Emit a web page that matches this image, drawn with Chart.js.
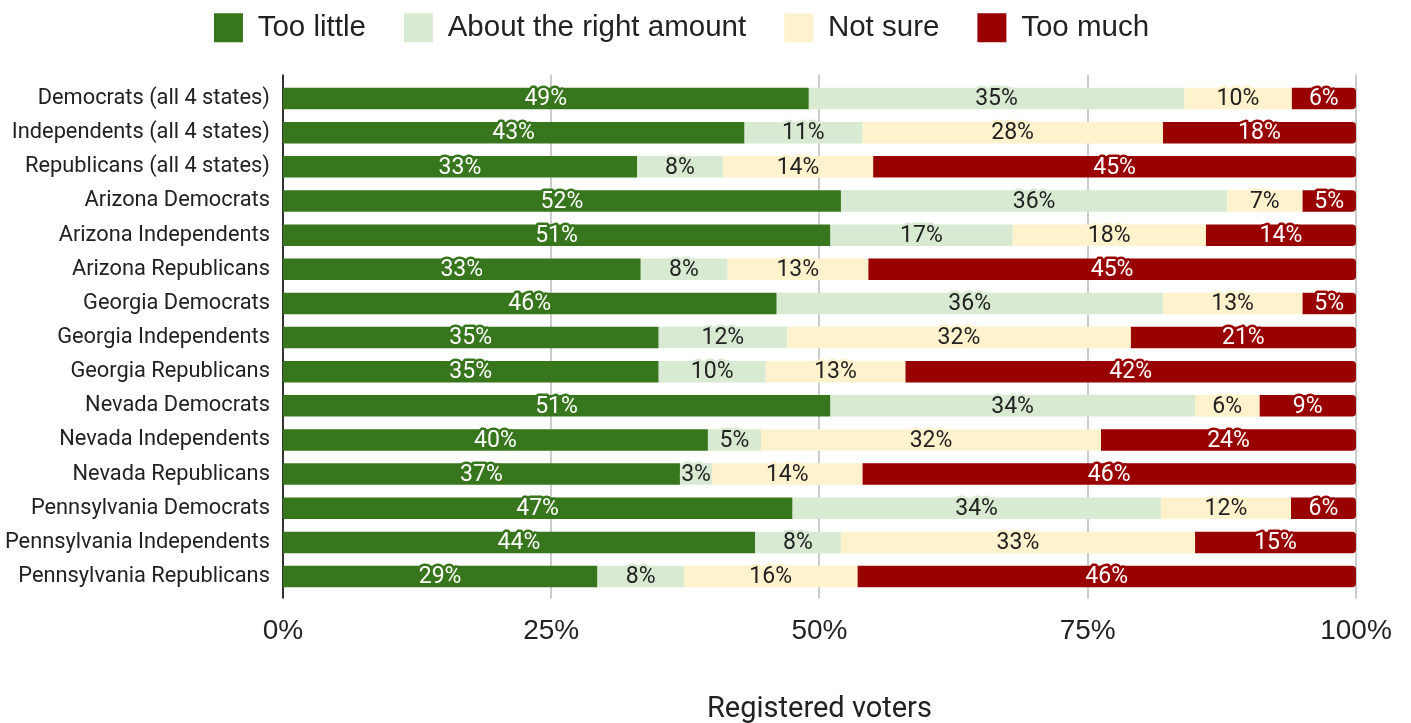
<!DOCTYPE html>
<html lang="en">

<head>
    <meta charset="UTF-8">
    <meta name="viewport" content="width=device-width, initial-scale=1.0">
    <script src="https://cdn.jsdelivr.net/npm/chart.js"></script>
    <title>Registered voters</title>
    <style>
        html, body { margin: 0; padding: 0; background: #fff; }
        .chart-container { width: 1411px; height: 723px; position: relative; }
    </style>
</head>

<body>
    <div class="chart-container">
        <canvas id="myChart"></canvas>
    </div>

<script>
    const labels = [
        'Democrats (all 4 states)',
        'Independents (all 4 states)',
        'Republicans (all 4 states)',
        'Arizona Democrats',
        'Arizona Independents',
        'Arizona Republicans',
        'Georgia Democrats',
        'Georgia Independents',
        'Georgia Republicans',
        'Nevada Democrats',
        'Nevada Independents',
        'Nevada Republicans',
        'Pennsylvania Democrats',
        'Pennsylvania Independents',
        'Pennsylvania Republicans',
    ];

    const seriesNames = ['Too little', 'About the right amount', 'Not sure', 'Too much'];

    const tooLittle   = [49, 43, 33, 52, 51, 33, 46, 35, 35, 51, 40, 37, 47, 44, 29];
    const rightAmount = [35, 11,  8, 36, 17,  8, 36, 12, 10, 34,  5,  3, 34,  8,  8];
    const notSure     = [10, 28, 14,  7, 18, 13, 13, 32, 13,  6, 32, 14, 12, 33, 16];
    const tooMuch     = [ 6, 18, 45,  5, 14, 45,  5, 21, 42,  9, 24, 46,  6, 15, 46];

    const xTicks = [0, 25, 50, 75, 100];

    const series = [tooLittle, rightAmount, notSure, tooMuch];
    const fills = ['#38761d', '#d9ead3', '#fff2cc', '#990000'];
    const textColors = ['#ffffff', '#222222', '#222222', '#ffffff'];

    // rows are rounded, so scale each one to a full 100% bar
    const totals = labels.map((l, i) => series.reduce((s, arr) => s + arr[i], 0));

    const datasets = series.map((arr, k) => ({
        label: seriesNames[k],
        raw: arr,
        data: arr.map((v, i) => v / totals[i] * 100),
        backgroundColor: fills[k],
        labelColor: textColors[k],
        borderWidth: 0,
        borderRadius: k === 3 ? 4 : 0,
        barPercentage: 0.63,
        categoryPercentage: 1,
    }));

    // extra room between legend and plot, legend nudged right
    const legendGap = {
        id: 'legendGap',
        beforeInit(chart) {
            const fit = chart.legend.fit;
            chart.legend.fit = function () {
                fit.bind(chart.legend)();
                this.height += 29;
            };
        },
        afterLayout(chart) {
            chart.legend.left += 3.5;
            chart.legend.right += 3.5;
        }
    };

    // vertical grid lines, a bit taller than the plot area
    const gridLines = {
        id: 'gridLines',
        beforeDatasetsDraw(chart) {
            const { ctx, chartArea, scales } = chart;
            ctx.save();
            xTicks.forEach(v => {
                const x = Math.round(scales.x.getPixelForValue(v));
                ctx.beginPath();
                ctx.lineWidth = 2;
                ctx.strokeStyle = v === 0 ? '#333333' : '#cccccc';
                ctx.moveTo(x, chartArea.top - 7);
                ctx.lineTo(x, chartArea.bottom + 5);
                ctx.stroke();
            });
            ctx.restore();
        }
    };

    // percentage labels in the middle of each segment
    const barLabels = {
        id: 'barLabels',
        afterDatasetsDraw(chart) {
            const ctx = chart.ctx;
            ctx.save();
            ctx.font = '23px Roboto';
            ctx.textAlign = 'center';
            ctx.textBaseline = 'middle';
            ctx.lineJoin = 'round';
            chart.data.datasets.forEach((ds, i) => {
                chart.getDatasetMeta(i).data.forEach((bar, j) => {
                    const cx = (bar.x + bar.base) / 2;
                    const text = ds.raw[j] + '%';
                    ctx.lineWidth = 5;
                    ctx.strokeStyle = ds.backgroundColor;
                    ctx.strokeText(text, cx, bar.y + 1);
                    ctx.fillStyle = ds.labelColor;
                    ctx.fillText(text, cx, bar.y + 1);
                });
            });
            ctx.restore();
        }
    };

    const config = {
        type: 'bar',
        data: {
            labels: labels,
            datasets: datasets,
        },
        options: {
            indexAxis: 'y',
            responsive: true,
            maintainAspectRatio: false,
            animation: false,
            layout: {
                padding: { left: 0, right: 55, top: -25, bottom: -4 }
            },
            plugins: {
                legend: {
                    position: 'top',
                    labels: {
                        font: { family: 'Liberation Sans', size: 29.5 },
                        color: '#222222',
                        boxWidth: 29,
                        boxHeight: 29,
                        padding: 38,
                    }
                },
                tooltip: { enabled: false },
            },
            scales: {
                x: {
                    stacked: true,
                    min: 0,
                    max: 100,
                    grid: { display: false },
                    border: { display: false },
                    ticks: {
                        stepSize: 25,
                        padding: 13,
                        color: '#222222',
                        font: { family: 'Liberation Sans', size: 28 },
                        callback: v => v + '%',
                    },
                    title: {
                        display: true,
                        text: 'Registered voters',
                        color: '#222222',
                        font: { family: 'Roboto', size: 29 },
                        padding: { top: 31, bottom: 0 },
                    }
                },
                y: {
                    stacked: true,
                    grid: { display: false },
                    border: { display: false },
                    ticks: {
                        color: '#222222',
                        padding: 5,
                        font: { family: 'Roboto', size: 21.8 },
                    }
                }
            }
        },
        plugins: [legendGap, gridLines, barLabels],
    };

    const myChart = new Chart(document.getElementById('myChart'), config);
</script>
</body>

</html>
